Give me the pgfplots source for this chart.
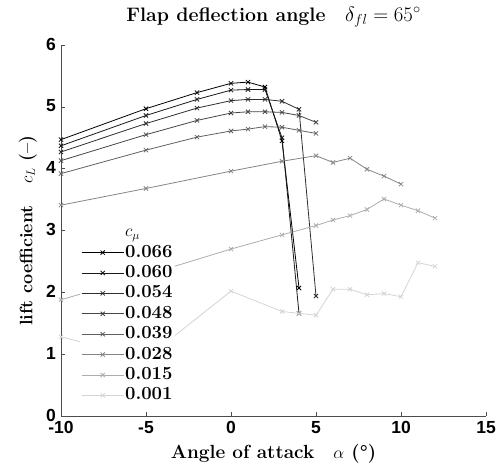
\documentclass[border=0pt]{standalone}
\usepackage{fontspec}
\usepackage{pgfplots}
\pgfplotsset{compat=1.18}
\newfontfamily\ticksf{Liberation Sans}
\definecolor{cA}{gray}{0.0}
\definecolor{cB}{gray}{0.10}
\definecolor{cC}{gray}{0.18}
\definecolor{cD}{gray}{0.27}
\definecolor{cE}{gray}{0.38}
\definecolor{cF}{gray}{0.52}
\definecolor{cG}{gray}{0.68}
\definecolor{cH}{gray}{0.83}
\begin{document}
\begin{tikzpicture}
\path[use as bounding box] (-61pt,-55pt) rectangle (441pt,416pt);
\begin{axis}[
  scale only axis, width=425pt, height=371pt,
  xmin=-10, xmax=15, ymin=0, ymax=6,
  axis lines=left, axis line style={-, black!70, line width=0.8pt},
  tick align=inside, major tick length=4pt, tick style={black!70, line width=0.6pt},
  xtick={-10,-5,0,5,10,15}, xticklabels={-10,-5,0,5,10,15},
  ytick={0,1,2,3,4,5,6}, yticklabels={0,1,2,3,4,5,6},
  ticklabel style={font=\ticksf\bfseries\fontsize{17.5}{19}\selectfont, inner sep=1pt},
  xticklabel style={yshift=-4pt},
  yticklabel style={xshift=-4pt, yshift=1pt},
  clip=false,
  title={Flap deflection angle\hspace{1em}$\delta_{fl}=65^\circ$},
  title style={at={(axis description cs:0.5,1)}, yshift=22pt, anchor=center, inner sep=0pt, font=\bfseries\fontsize{19.5}{22}\selectfont},
  xlabel={Angle of attack\hspace{1em}$\alpha$ (°)},
  xlabel style={at={(axis description cs:0.5,0)}, yshift=-38pt, anchor=center, font=\bfseries\fontsize{19}{22}\selectfont},
  ylabel={lift coefficient\hspace{1.2em}$c_L$ (--)},
  ylabel style={at={(axis description cs:-0.078,0.5)}, anchor=center, font=\bfseries\fontsize{18}{21}\selectfont},
  every axis plot/.append style={mark=x, mark size=3pt, line width=0.8pt},
  legend image code/.code={\draw[mark repeat=2,mark phase=2,#1] plot coordinates {(0pt,0pt) (21pt,0pt) (42pt,0pt)};},
  legend cell align=left,
  legend style={at={(axis description cs:0.045,0.523)}, anchor=north west, draw=none, fill=white, inner sep=1pt,
    font=\bfseries\fontsize{18.5}{20}\selectfont,
    nodes={inner sep=1pt, text height=12.5pt, text depth=3.5pt}, row sep=2.4pt},
]
\addlegendimage{empty legend}
\addlegendentry{$c_\mu$}
\addplot[cA] coordinates {(-10,4.47) (-5,4.97) (-2,5.23) (0,5.38) (1,5.40) (2,5.32) (3,4.45) (4,2.07)};
\addlegendentry{0.066}
\addplot[cB] coordinates {(-10,4.37) (-5,4.86) (-2,5.12) (0,5.27) (1,5.28) (2,5.28) (3,4.50) (4,1.66)};
\addlegendentry{0.060}
\addplot[cC] coordinates {(-10,4.27) (-5,4.73) (-2,4.98) (0,5.10) (1,5.12) (2,5.12) (3,5.09) (4,4.96) (5,1.94)};
\addlegendentry{0.054}
\addplot[cD] coordinates {(-10,4.13) (-5,4.55) (-2,4.78) (0,4.90) (1,4.92) (2,4.92) (3,4.91) (4,4.86) (5,4.75)};
\addlegendentry{0.048}
\addplot[cE] coordinates {(-10,3.92) (-5,4.30) (-2,4.51) (0,4.61) (1,4.64) (2,4.68) (3,4.67) (4,4.62) (5,4.57)};
\addlegendentry{0.039}
\addplot[cF] coordinates {(-10,3.41) (-5,3.68) (0,3.96) (3,4.12) (5,4.21) (6,4.10) (7,4.17) (8,3.99) (9,3.88) (10,3.75)};
\addlegendentry{0.028}
\addplot[cG] coordinates {(-10,1.88) (-5,2.28) (0,2.70) (3,2.93) (5,3.08) (6,3.17) (7,3.24) (8,3.34) (9,3.51) (10,3.41) (11,3.32) (12,3.20)};
\addlegendentry{0.015}
\addplot[cH] coordinates {(-10,1.28) (-5,0.93) (0,2.02) (3,1.69) (4,1.66) (5,1.63) (6,2.05) (7,2.05) (8,1.96) (9,1.98) (10,1.93) (11,2.48) (12,2.42)};
\addlegendentry{0.001}
\end{axis}
\end{tikzpicture}
\end{document}
